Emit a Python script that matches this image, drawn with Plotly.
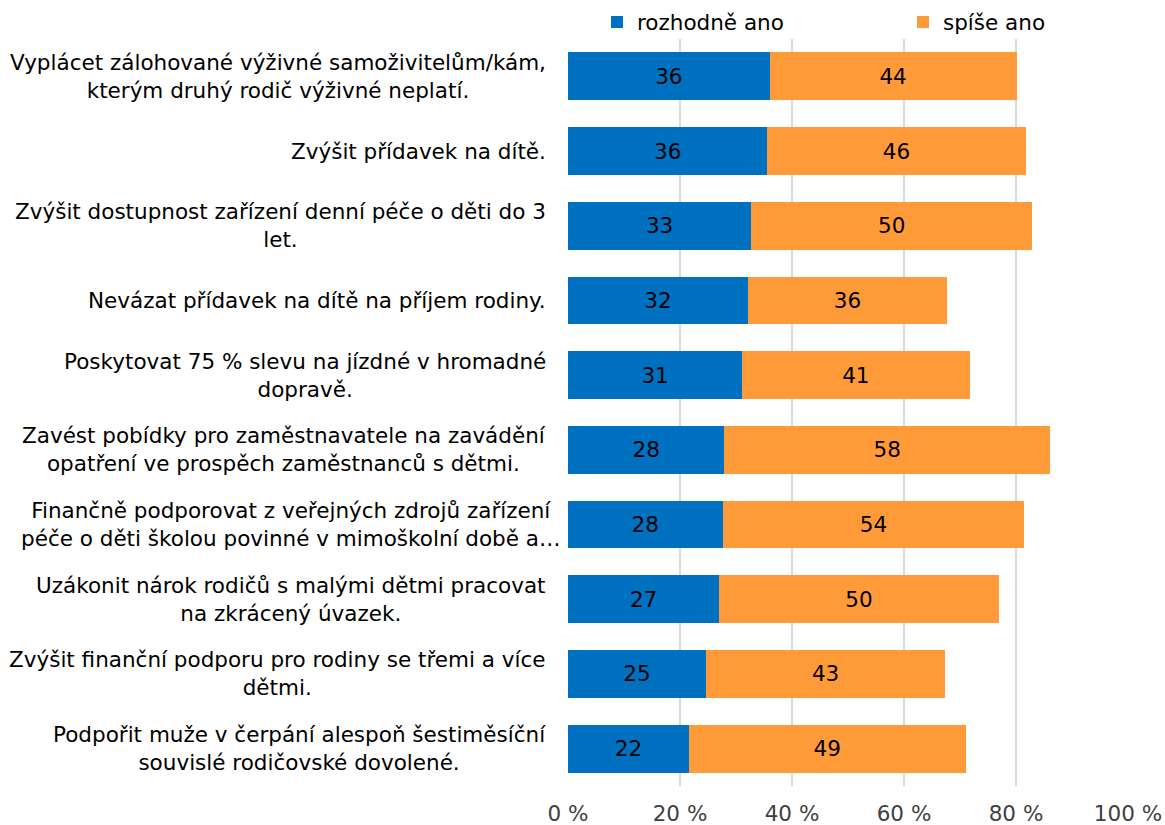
import plotly.graph_objects as go

categories = [
    "Vyplácet zálohované výživné samoživitelům/kám,<br>kterým druhý rodič výživné neplatí.",
    "Zvýšit přídavek na dítě.",
    "Zvýšit dostupnost zařízení denní péče o děti do 3<br>let.",
    "Nevázat přídavek na dítě na příjem rodiny.",
    "Poskytovat 75 % slevu na jízdné v hromadné<br>dopravě.",
    "Zavést pobídky pro zaměstnavatele na zavádění<br>opatření ve prospěch zaměstnanců s dětmi.",
    "Finančně podporovat z veřejných zdrojů zařízení<br>péče o děti školou povinné v mimoškolní době a…",
    "Uzákonit nárok rodičů s malými dětmi pracovat<br>na zkrácený úvazek.",
    "Zvýšit finanční podporu pro rodiny se třemi a více<br>dětmi.",
    "Podpořit muže v čerpání alespoň šestiměsíční<br>souvislé rodičovské dovolené.",
]
rozhodne_ano = [36.0, 35.6, 32.7, 32.1, 31.1, 27.9, 27.6, 27.0, 24.6, 21.6]
spise_ano = [44.1, 46.1, 50.2, 35.6, 40.6, 58.2, 53.9, 49.9, 42.8, 49.4]
series_names = ["rozhodně ano", "spíše ano"]
tick_values = [0, 20, 40, 60, 80, 100]
tick_labels = ["0 %", "20 %", "40 %", "60 %", "80 %", "100 %"]

FONT = "DejaVu Sans"
FS = 21.5
BLUE = "#0070C0"
ORANGE = "#FF9A38"
W, H = 1165, 825

fig = go.Figure()
for name, vals, col, lg in [(series_names[0], rozhodne_ano, BLUE, "legend"),
                            (series_names[1], spise_ano, ORANGE, "legend2")]:
    fig.add_trace(go.Bar(
        y=categories, x=vals, name=name, orientation="h", legend=lg,
        showlegend=True,
        marker=dict(color=col, line=dict(width=0)),
        texttemplate="%{x:.0f}", textposition="inside", insidetextanchor="middle",
        textangle=0, constraintext="none",
        textfont=dict(family=FONT, size=FS, color="black"),
    ))

for i, c in enumerate(categories):
    fig.add_annotation(
        x=0, xref="paper", y=c, yref="y", xanchor="right",
        xshift=-5 if i == 6 else -20,
        text=c, showarrow=False, align="center",
        font=dict(family=FONT, size=FS, color="black"),
    )

legend_common = dict(orientation="h", xref="container", yref="container",
                     xanchor="left", yanchor="middle", y=1 - 22 / H,
                     font=dict(family=FONT, size=FS, color="black"),
                     itemclick=False, bgcolor="rgba(0,0,0,0)")

fig.update_layout(
    width=W, height=H, showlegend=True,
    barmode="stack", bargap=0.36,
    plot_bgcolor="white", paper_bgcolor="white",
    margin=dict(l=568, r=37, t=39, b=39, autoexpand=False),
    font=dict(family=FONT, size=FS, color="#404040"),
    legend=dict(x=597 / W, **legend_common),
    legend2=dict(x=903 / W, **legend_common),
    xaxis=dict(range=[0, 100], tickmode="array", tickvals=tick_values, ticktext=tick_labels,
               showgrid=True, gridcolor="#D9D9D9", gridwidth=1.5,
               zeroline=False, showline=False, ticks="", ticklabelstandoff=12,
               tickfont=dict(family=FONT, size=FS, color="#404040")),
    yaxis=dict(autorange="reversed", showticklabels=False, showgrid=False,
               zeroline=False, showline=False, ticks=""),
)

fig.write_html("out.html", config={"displayModeBar": False},
               post_script="document.body.style.margin='0';document.body.style.overflow='hidden';")
